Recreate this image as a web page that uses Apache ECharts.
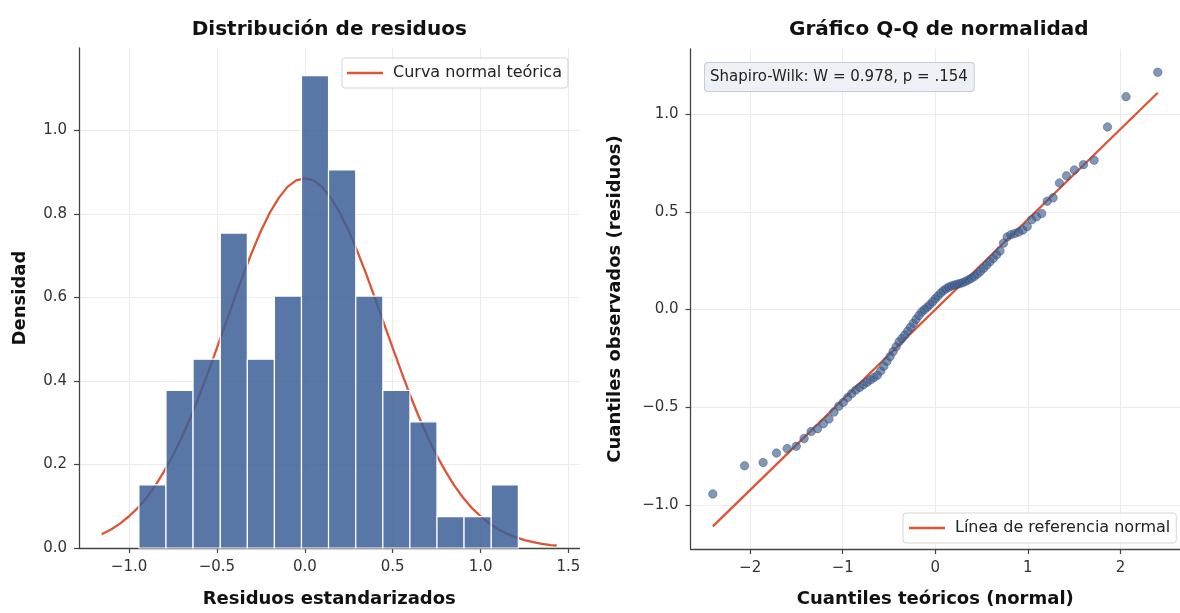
<!DOCTYPE html>
<html>
<head>
<meta charset="utf-8">
<script src="https://cdn.jsdelivr.net/npm/echarts@6/dist/echarts.min.js"></script>
<style>
html,body{margin:0;padding:0;background:#fff;}
#chart{width:1180px;height:613px;}
</style>
</head>
<body>
<div id="chart"></div>
<script>
// ---- Histogram data (left panel) ----
const binEdges = [-0.944,-0.790,-0.636,-0.481,-0.327,-0.173,-0.019,0.135,0.290,0.444,0.598,0.752,0.906,1.061,1.215];
const densities = [0.151,0.377,0.452,0.754,0.452,0.603,1.131,0.905,0.603,0.377,0.302,0.075,0.075,0.151];
const curveX = [-1.156,-1.1,-1.05,-1.0,-0.95,-0.9,-0.85,-0.8,-0.75,-0.7,-0.65,-0.6,-0.55,-0.5,-0.45,-0.4,-0.35,-0.3,-0.25,-0.2,-0.15,-0.1,-0.05,0,
  0.05,0.1,0.15,0.2,0.25,0.3,0.35,0.4,0.45,0.5,0.55,0.6,0.65,0.7,0.75,0.8,0.85,0.9,0.95,1.0,1.05,1.1,1.15,1.2,1.25,1.3,1.35,1.4,1.433];
const curveY = [0.033,0.045,0.059,0.076,0.096,0.121,0.150,0.184,0.222,0.265,0.313,0.365,0.421,0.479,0.538,0.597,0.655,0.709,0.759,0.802,0.837,0.864,0.880,0.885,
  0.880,0.864,0.837,0.802,0.759,0.709,0.655,0.597,0.538,0.479,0.421,0.365,0.313,0.265,0.222,0.184,0.150,0.121,0.096,0.076,0.059,0.045,0.034,0.026,0.019,0.014,0.010,0.007,0.006];
const histXTicks = [-1.0,-0.5,0.0,0.5,1.0,1.5];
const histYTicks = [0.0,0.2,0.4,0.6,0.8,1.0];

// ---- Q-Q data (right panel) ----
const theoQ = [-2.403,-2.060,-1.860,-1.715,-1.600,-1.502,-1.417,-1.341,-1.272,-1.209,-1.149,-1.094,-1.042,-0.993,-0.946,-0.902,-0.858,-0.816,-0.776,-0.737,-0.699,-0.662,-0.626,-0.590,-0.556,-0.522,-0.488,-0.456,-0.423,-0.391,-0.360,-0.329,-0.298,-0.267,-0.237,-0.207,-0.177,-0.147,-0.118,-0.088,-0.059,-0.029,0.000,
  0.029,0.059,0.088,0.118,0.147,0.177,0.207,0.237,0.267,0.298,0.329,0.360,0.391,0.423,0.456,0.488,0.522,0.556,0.590,0.626,0.662,0.699,0.737,0.776,0.816,0.858,0.902,0.946,0.993,1.042,1.094,1.149,1.209,1.272,1.341,1.417,1.502,1.600,1.715,1.860,2.060,2.403];
const obsResid = [-0.944,-0.800,-0.783,-0.735,-0.712,-0.700,-0.660,
  -0.625,-0.610,-0.585,-0.560,-0.525,-0.495,
  -0.475,-0.450,-0.430,-0.412,-0.398,-0.385,-0.372,-0.360,-0.348,-0.336,
  -0.315,-0.290,-0.265,-0.240,-0.215,-0.190,
  -0.165,-0.148,-0.130,-0.110,-0.090,-0.070,-0.050,-0.030,
  -0.012,0.000,0.012,0.025,0.040,0.055,0.070,0.085,0.097,0.107,0.115,0.121,0.126,0.130,0.133,
  0.138,0.145,0.152,0.160,0.170,0.182,0.196,0.212,0.228,0.245,0.262,0.280,
  0.300,0.340,0.372,0.383,0.390,0.397,0.407,0.425,
  0.460,0.475,0.492,0.555,0.572,
  0.648,0.685,0.715,0.742,
  0.765,0.935,1.090,1.215];
const refLineX = [-2.403, 2.403];
const refLineY = [-1.110, 1.110];
const qqXTicks = [-2,-1,0,1,2];
const qqYTicks = [-1.0,-0.5,0.0,0.5,1.0];

const FONT = 'DejaVu Sans';
const AX = '#444';
const GRIDC = '#ebebeb';
const RED = '#DC5535';

function minus(s){ return s.replace('-', '\u2212'); }
const fmt1 = v => minus(Number(v).toFixed(1));
const fmt0 = v => minus(String(Math.round(v)));

const histData = densities.map((d,i)=>[binEdges[i], binEdges[i+1], d]);
const curveData = curveX.map((x,i)=>[x, curveY[i]]);
const qqData = theoQ.map((q,i)=>[q, obsResid[i]]);
const refData = refLineX.map((x,i)=>[x, refLineY[i]]);

function axisCommon(ticks, fmt, nameText, gap){
  return {
    type:'value',
    name: nameText,
    nameLocation:'middle',
    nameGap: gap,
    nameTextStyle:{fontFamily:FONT, fontSize:18, fontWeight:'bold', color:'#111'},
    axisLine:{show:true, onZero:false, lineStyle:{color:AX, width:1.3}},
    axisTick:{show:true, inside:false, length:5, customValues:ticks, lineStyle:{color:AX, width:1.2}},
    axisLabel:{show:true, customValues:ticks, formatter:fmt, margin:12, fontFamily:FONT, fontSize:15, color:'#333'},
    splitLine:{show:true, lineStyle:{color:GRIDC, width:1}},
    minorTick:{show:false}
  };
}

const legendCommon = {
  itemWidth:36, itemHeight:2.6, icon:'rect',
  backgroundColor:'rgba(255,255,255,0.85)',
  borderColor:'#d4d4d4', borderWidth:1, borderRadius:3,
  textStyle:{fontFamily:FONT, fontSize:16, color:'#222', padding:[0,0,0,5]}
};

const option = {
  animation:false,
  textStyle:{fontFamily:FONT},
  grid:[
    {left:79, top:48, width:500.5, height:504},
    {left:690.6, top:49, width:496.4, height:504.3}
  ],
  xAxis:[
    Object.assign(axisCommon(histXTicks, fmt1, 'Residuos estandarizados', 42), {gridIndex:0, min:-1.285, max:1.563}),
    Object.assign(axisCommon(qqXTicks, fmt0, 'Cuantiles teóricos (normal)', 41), {gridIndex:1, min:-2.643, max:2.643})
  ],
  yAxis:[
    Object.assign(axisCommon(histYTicks, fmt1, 'Densidad', 50), {gridIndex:0, min:0, max:1.197}),
    Object.assign(axisCommon(qqYTicks, fmt1, 'Cuantiles observados (residuos)', 66), {gridIndex:1, min:-1.226, max:1.334})
  ],
  legend:[
    Object.assign({}, legendCommon, {data:['Curva normal teórica'], left:342, top:58, padding:[7,6,7,5]}),
    Object.assign({}, legendCommon, {data:['Línea de referencia normal'], left:903, top:513, padding:[7,6,7,6]})
  ],
  graphic:[
    {type:'text', x:329.25, y:30, z:10,
      style:{text:'Distribución de residuos', font:'bold 20px "DejaVu Sans"', fill:'#111', align:'center', verticalAlign:'middle'}},
    {type:'text', x:938.8, y:30, z:10,
      style:{text:'Gráfico Q-Q de normalidad', font:'bold 20px "DejaVu Sans"', fill:'#111', align:'center', verticalAlign:'middle'}},
    {type:'text', x:705, y:63, z:10,
      style:{text:'Shapiro-Wilk: W = 0.978, p = .154', font:'15px "DejaVu Sans"', fill:'#222',
        backgroundColor:'#edf1f6', borderColor:'#c3ccd7', borderWidth:1, borderRadius:3,
        padding:[5,6,5,5], lineHeight:18}}
  ],
  series:[
    {
      name:'Curva normal teórica', type:'line', xAxisIndex:0, yAxisIndex:0,
      data:curveData, smooth:false, symbol:'none', z:2,
      lineStyle:{color:RED, width:2.3}, itemStyle:{color:RED}
    },
    {
      name:'hist', type:'custom', xAxisIndex:0, yAxisIndex:0, z:3,
      data:histData,
      encode:{x:[0,1], y:2},
      renderItem:function(params, api){
        const p0 = api.coord([api.value(0), api.value(2)]);
        const p1 = api.coord([api.value(1), 0]);
        return {type:'rect', shape:{x:p0[0], y:p0[1], width:p1[0]-p0[0], height:p1[1]-p0[1]},
          style:{fill:'rgba(60,95,150,0.85)', stroke:'#ffffff', lineWidth:1.2}};
      }
    },
    {
      name:'qq', type:'scatter', xAxisIndex:1, yAxisIndex:1, z:3,
      data:qqData, symbolSize:8.5,
      itemStyle:{color:'rgba(62,96,145,0.82)', borderColor:'rgba(40,62,100,0.6)', borderWidth:0.8}
    },
    {
      name:'Línea de referencia normal', type:'line', xAxisIndex:1, yAxisIndex:1,
      data:refData, symbol:'none', z:2,
      lineStyle:{color:RED, width:2.3}, itemStyle:{color:RED}
    }
  ]
};

const chart = echarts.init(document.getElementById('chart'), null, {renderer:'canvas'});
chart.setOption(option);
</script>
</body>
</html>
